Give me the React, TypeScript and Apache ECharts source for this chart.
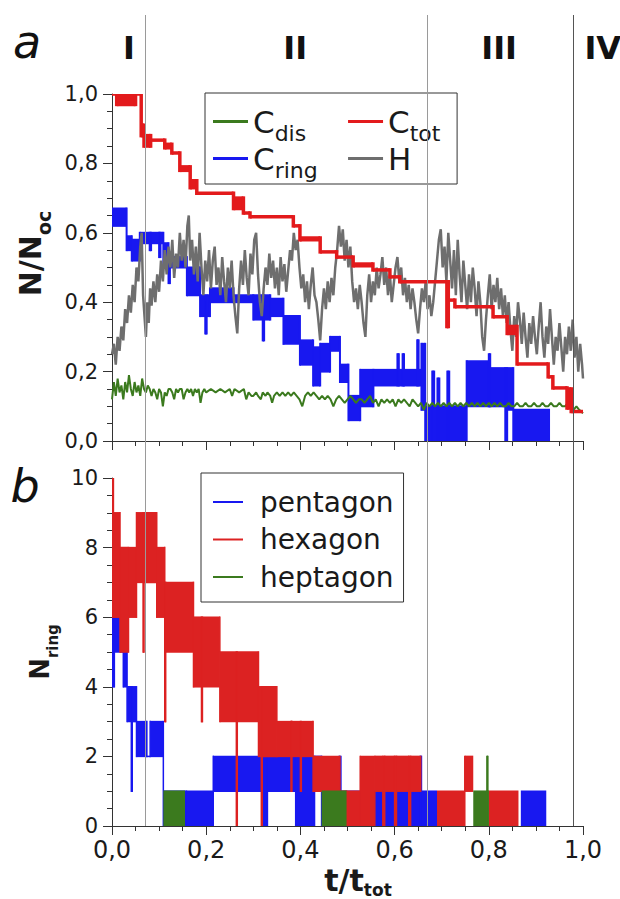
import React, { useEffect, useRef } from 'react';
import * as echarts from 'echarts';

const FONT = 'DejaVu Sans';
const INK = '#1a1a1a';
const BLUE = '#1818f0';
const RED = '#e31a1c';
const RED_B = '#dc2222';
const GREEN = '#3b7a1e';
const GREY = '#6e6e6e';

// Region boundaries (t/t_tot) and labels
const regionBounds = [0.07, 0.669, 0.979];
const regionNames = ['I', 'II', 'III', 'IV'];
const regionNameT = [0.036, 0.389, 0.822, 1.042];

// Panel a — step traces as segments [t0, t1, low, high] (dense switching drawn as a band)
const cTot = [
  [0.000, 0.010, 1.00, 1.00], [0.010, 0.050, 0.97, 1.00], [0.050, 0.062, 1.00, 1.00],
  [0.062, 0.068, 0.88, 0.91], [0.068, 0.082, 0.85, 0.88], [0.082, 0.112, 0.867, 0.867],
  [0.112, 0.127, 0.845, 0.855], [0.127, 0.144, 0.83, 0.83], [0.144, 0.166, 0.78, 0.79],
  [0.166, 0.180, 0.73, 0.75], [0.180, 0.258, 0.714, 0.714], [0.258, 0.279, 0.67, 0.70],
  [0.279, 0.293, 0.657, 0.657], [0.293, 0.385, 0.646, 0.646], [0.385, 0.399, 0.62, 0.62],
  [0.399, 0.442, 0.58, 0.585], [0.442, 0.477, 0.545, 0.545], [0.477, 0.512, 0.53, 0.53],
  [0.512, 0.554, 0.505, 0.51], [0.554, 0.590, 0.493, 0.493], [0.590, 0.611, 0.473, 0.473],
  [0.611, 0.711, 0.459, 0.459], [0.711, 0.714, 0.33, 0.459], [0.714, 0.728, 0.406, 0.406],
  [0.728, 0.809, 0.387, 0.387], [0.809, 0.839, 0.358, 0.358], [0.839, 0.860, 0.31, 0.33],
  [0.860, 0.926, 0.222, 0.222], [0.926, 0.936, 0.185, 0.185], [0.936, 0.966, 0.153, 0.153],
  [0.966, 0.975, 0.095, 0.15], [0.975, 1.000, 0.085, 0.085],
];

const cRing = [
  [0.000, 0.031, 0.62, 0.67], [0.031, 0.042, 0.55, 0.59], [0.042, 0.059, 0.52, 0.58],
  [0.059, 0.080, 0.57, 0.60], [0.080, 0.083, 0.55, 0.60], [0.083, 0.100, 0.57, 0.60],
  [0.100, 0.103, 0.53, 0.60], [0.103, 0.109, 0.57, 0.60], [0.109, 0.120, 0.51, 0.57],
  [0.120, 0.123, 0.455, 0.52], [0.123, 0.159, 0.50, 0.53], [0.159, 0.187, 0.42, 0.50],
  [0.187, 0.198, 0.36, 0.42], [0.198, 0.201, 0.31, 0.40], [0.201, 0.208, 0.36, 0.42],
  [0.208, 0.258, 0.40, 0.44], [0.258, 0.300, 0.40, 0.42], [0.300, 0.320, 0.35, 0.42],
  [0.320, 0.323, 0.29, 0.40], [0.323, 0.336, 0.35, 0.42], [0.336, 0.364, 0.36, 0.41],
  [0.364, 0.399, 0.28, 0.36], [0.399, 0.427, 0.22, 0.29], [0.427, 0.442, 0.16, 0.27],
  [0.442, 0.463, 0.20, 0.28], [0.463, 0.484, 0.26, 0.30], [0.484, 0.502, 0.17, 0.22],
  [0.502, 0.527, 0.06, 0.13], [0.527, 0.555, 0.10, 0.205], [0.555, 0.606, 0.16, 0.205],
  [0.606, 0.609, 0.16, 0.25], [0.609, 0.617, 0.16, 0.205], [0.617, 0.620, 0.16, 0.25],
  [0.620, 0.648, 0.16, 0.205], [0.648, 0.651, 0.16, 0.29], [0.651, 0.657, 0.16, 0.205],
  [0.657, 0.665, 0.09, 0.28], [0.665, 0.680, 0.00, 0.10], [0.680, 0.684, 0.00, 0.20],
  [0.684, 0.691, 0.00, 0.10], [0.691, 0.695, 0.00, 0.18], [0.695, 0.712, 0.00, 0.10],
  [0.712, 0.716, 0.00, 0.20], [0.716, 0.753, 0.00, 0.10], [0.753, 0.800, 0.10, 0.23],
  [0.800, 0.803, 0.10, 0.25], [0.803, 0.835, 0.10, 0.21], [0.835, 0.839, 0.00, 0.21],
  [0.839, 0.852, 0.09, 0.21], [0.852, 0.930, 0.00, 0.09],
];

// Panel a — H (noisy line), [t, N/N_oc]
const hLine = [
  [0.000, 0.25], [0.004, 0.28], [0.008, 0.22], [0.012, 0.30], [0.016, 0.26], [0.020, 0.33],
  [0.024, 0.29], [0.028, 0.38], [0.032, 0.34], [0.036, 0.42], [0.040, 0.37], [0.044, 0.45],
  [0.048, 0.40], [0.052, 0.50], [0.056, 0.46], [0.060, 0.56], [0.063, 0.60], [0.066, 0.42],
  [0.069, 0.36], [0.072, 0.30], [0.075, 0.40], [0.078, 0.34], [0.081, 0.44], [0.084, 0.39],
  [0.088, 0.46], [0.092, 0.40], [0.096, 0.48], [0.100, 0.43], [0.104, 0.52], [0.108, 0.46],
  [0.112, 0.55], [0.116, 0.48], [0.120, 0.56], [0.124, 0.50], [0.128, 0.58], [0.132, 0.47],
  [0.136, 0.54], [0.140, 0.50], [0.144, 0.60], [0.148, 0.52], [0.152, 0.58], [0.156, 0.50],
  [0.160, 0.62], [0.163, 0.65], [0.166, 0.52], [0.170, 0.58], [0.174, 0.48], [0.178, 0.56],
  [0.182, 0.46], [0.186, 0.60], [0.190, 0.50], [0.194, 0.42], [0.198, 0.52], [0.202, 0.46],
  [0.206, 0.55], [0.210, 0.44], [0.214, 0.52], [0.218, 0.56], [0.222, 0.45], [0.226, 0.50],
  [0.230, 0.42], [0.234, 0.53], [0.238, 0.46], [0.242, 0.40], [0.246, 0.50], [0.250, 0.44],
  [0.254, 0.52], [0.258, 0.42], [0.262, 0.36], [0.266, 0.31], [0.270, 0.44], [0.274, 0.52],
  [0.278, 0.45], [0.282, 0.55], [0.286, 0.47], [0.290, 0.42], [0.294, 0.54], [0.298, 0.48],
  [0.302, 0.58], [0.306, 0.60], [0.310, 0.48], [0.314, 0.40], [0.318, 0.36], [0.322, 0.44],
  [0.326, 0.50], [0.330, 0.45], [0.334, 0.54], [0.338, 0.47], [0.342, 0.52], [0.346, 0.44],
  [0.350, 0.50], [0.354, 0.42], [0.358, 0.53], [0.362, 0.46], [0.366, 0.51], [0.370, 0.43],
  [0.374, 0.49], [0.378, 0.55], [0.382, 0.52], [0.386, 0.60], [0.390, 0.55], [0.394, 0.58],
  [0.398, 0.50], [0.402, 0.44], [0.406, 0.48], [0.410, 0.40], [0.414, 0.46], [0.418, 0.38],
  [0.422, 0.45], [0.426, 0.50], [0.430, 0.42], [0.434, 0.40], [0.438, 0.35], [0.442, 0.29],
  [0.446, 0.38], [0.450, 0.44], [0.454, 0.38], [0.458, 0.46], [0.462, 0.40], [0.466, 0.47],
  [0.470, 0.42], [0.474, 0.50], [0.478, 0.55], [0.482, 0.62], [0.486, 0.56], [0.490, 0.61],
  [0.494, 0.52], [0.498, 0.58], [0.502, 0.50], [0.506, 0.56], [0.510, 0.46], [0.514, 0.40],
  [0.518, 0.44], [0.522, 0.38], [0.526, 0.45], [0.530, 0.40], [0.534, 0.34], [0.538, 0.30],
  [0.542, 0.42], [0.546, 0.48], [0.550, 0.40], [0.554, 0.46], [0.558, 0.42], [0.562, 0.50],
  [0.566, 0.44], [0.570, 0.48], [0.574, 0.53], [0.578, 0.45], [0.582, 0.50], [0.586, 0.42],
  [0.590, 0.48], [0.594, 0.40], [0.598, 0.45], [0.602, 0.50], [0.606, 0.53], [0.610, 0.46],
  [0.614, 0.50], [0.618, 0.42], [0.622, 0.47], [0.626, 0.40], [0.630, 0.45], [0.634, 0.38],
  [0.638, 0.44], [0.642, 0.40], [0.646, 0.35], [0.650, 0.31], [0.654, 0.38], [0.658, 0.44],
  [0.662, 0.40], [0.666, 0.46], [0.670, 0.38], [0.674, 0.42], [0.678, 0.36], [0.682, 0.40],
  [0.686, 0.46], [0.690, 0.52], [0.694, 0.58], [0.698, 0.61], [0.702, 0.50], [0.706, 0.56],
  [0.710, 0.46], [0.714, 0.60], [0.718, 0.52], [0.722, 0.44], [0.726, 0.55], [0.730, 0.42],
  [0.734, 0.58], [0.738, 0.48], [0.742, 0.40], [0.746, 0.52], [0.750, 0.45], [0.754, 0.38],
  [0.758, 0.48], [0.762, 0.40], [0.766, 0.50], [0.770, 0.44], [0.774, 0.36], [0.778, 0.46],
  [0.782, 0.40], [0.786, 0.30], [0.790, 0.26], [0.794, 0.35], [0.798, 0.42], [0.802, 0.48],
  [0.806, 0.38], [0.810, 0.45], [0.814, 0.40], [0.818, 0.47], [0.822, 0.38], [0.826, 0.44],
  [0.830, 0.36], [0.834, 0.42], [0.838, 0.34], [0.842, 0.40], [0.846, 0.32], [0.850, 0.26],
  [0.854, 0.36], [0.858, 0.30], [0.862, 0.40], [0.866, 0.35], [0.870, 0.28], [0.874, 0.37],
  [0.878, 0.30], [0.882, 0.24], [0.886, 0.34], [0.890, 0.28], [0.894, 0.36], [0.898, 0.30],
  [0.902, 0.25], [0.906, 0.33], [0.910, 0.40], [0.914, 0.30], [0.918, 0.24], [0.922, 0.33],
  [0.926, 0.28], [0.930, 0.38], [0.934, 0.30], [0.938, 0.22], [0.942, 0.30], [0.946, 0.26],
  [0.950, 0.34], [0.954, 0.27], [0.958, 0.20], [0.962, 0.30], [0.966, 0.25], [0.970, 0.33],
  [0.974, 0.26], [0.978, 0.35], [0.982, 0.24], [0.986, 0.30], [0.990, 0.20], [0.994, 0.28],
  [0.998, 0.22], [1.000, 0.18],
];

// Panel a — C_dis (noisy line), [t, N/N_oc]
const cDis = [
  [0.000, 0.12], [0.004, 0.17], [0.008, 0.13], [0.012, 0.18], [0.016, 0.14], [0.020, 0.16],
  [0.024, 0.12], [0.028, 0.17], [0.032, 0.14], [0.036, 0.19], [0.040, 0.15], [0.044, 0.13],
  [0.048, 0.17], [0.052, 0.14], [0.056, 0.16], [0.060, 0.13], [0.064, 0.18], [0.068, 0.15],
  [0.072, 0.14], [0.076, 0.16], [0.080, 0.15], [0.084, 0.13], [0.088, 0.15], [0.092, 0.14],
  [0.096, 0.12], [0.100, 0.15], [0.104, 0.14], [0.108, 0.10], [0.112, 0.14], [0.116, 0.13],
  [0.120, 0.15], [0.124, 0.15], [0.128, 0.14], [0.132, 0.12], [0.136, 0.15], [0.140, 0.14],
  [0.144, 0.15], [0.148, 0.15], [0.152, 0.12], [0.156, 0.14], [0.160, 0.15], [0.164, 0.14],
  [0.168, 0.15], [0.172, 0.13], [0.176, 0.15], [0.180, 0.14], [0.184, 0.15], [0.188, 0.11],
  [0.192, 0.14], [0.196, 0.15], [0.200, 0.14], [0.210, 0.15], [0.220, 0.14], [0.230, 0.15],
  [0.240, 0.14], [0.250, 0.15], [0.255, 0.13], [0.260, 0.15], [0.270, 0.14], [0.280, 0.15],
  [0.285, 0.12], [0.290, 0.14], [0.296, 0.13], [0.300, 0.13], [0.306, 0.14], [0.310, 0.13],
  [0.316, 0.12], [0.320, 0.14], [0.326, 0.13], [0.330, 0.14], [0.336, 0.13], [0.340, 0.11],
  [0.344, 0.13], [0.350, 0.14], [0.356, 0.13], [0.362, 0.14], [0.368, 0.13], [0.374, 0.14],
  [0.380, 0.13], [0.386, 0.14], [0.392, 0.13], [0.398, 0.12], [0.404, 0.10], [0.410, 0.13],
  [0.416, 0.14], [0.422, 0.13], [0.428, 0.14], [0.434, 0.13], [0.440, 0.12], [0.446, 0.13],
  [0.452, 0.12], [0.458, 0.13], [0.464, 0.12], [0.470, 0.10], [0.476, 0.12], [0.482, 0.13],
  [0.488, 0.12], [0.494, 0.11], [0.500, 0.12], [0.506, 0.13], [0.512, 0.12], [0.518, 0.11],
  [0.524, 0.12], [0.530, 0.12], [0.536, 0.11], [0.542, 0.12], [0.548, 0.13], [0.554, 0.11],
  [0.560, 0.12], [0.566, 0.10], [0.572, 0.12], [0.578, 0.11], [0.584, 0.12], [0.590, 0.11],
  [0.596, 0.12], [0.602, 0.10], [0.608, 0.12], [0.614, 0.11], [0.620, 0.12], [0.626, 0.11],
  [0.632, 0.10], [0.638, 0.12], [0.644, 0.11], [0.650, 0.10], [0.656, 0.11], [0.662, 0.09],
  [0.668, 0.11], [0.674, 0.10], [0.680, 0.11], [0.686, 0.10], [0.692, 0.11], [0.698, 0.10],
  [0.704, 0.11], [0.710, 0.10], [0.716, 0.11], [0.722, 0.10], [0.728, 0.11], [0.734, 0.10],
  [0.740, 0.11], [0.746, 0.10], [0.752, 0.11], [0.758, 0.10], [0.764, 0.11], [0.770, 0.10],
  [0.776, 0.11], [0.782, 0.10], [0.788, 0.11], [0.794, 0.10], [0.800, 0.11], [0.806, 0.10],
  [0.812, 0.11], [0.818, 0.10], [0.824, 0.11], [0.830, 0.10], [0.836, 0.10], [0.842, 0.11],
  [0.848, 0.10], [0.854, 0.10], [0.860, 0.11], [0.866, 0.10], [0.872, 0.10], [0.878, 0.11],
  [0.884, 0.10], [0.890, 0.10], [0.896, 0.11], [0.902, 0.10], [0.908, 0.10], [0.914, 0.11],
  [0.920, 0.10], [0.926, 0.10], [0.932, 0.11], [0.938, 0.10], [0.944, 0.10], [0.950, 0.11],
  [0.956, 0.10], [0.962, 0.10], [0.968, 0.11], [0.974, 0.10], [0.980, 0.09], [0.986, 0.10],
  [0.992, 0.09], [1.000, 0.08],
];

// Panel b — ring counts as segments [t0, t1, low, high]
const pentagon = [
  [0.000, 0.005, 4, 7], [0.005, 0.024, 5, 6], [0.024, 0.032, 4, 5], [0.032, 0.041, 3, 4],
  [0.041, 0.043, 1, 4], [0.043, 0.052, 3, 4], [0.052, 0.074, 2, 3], [0.074, 0.081, 2, 2],
  [0.081, 0.109, 2, 3], [0.109, 0.158, 0, 1], [0.158, 0.215, 0, 1], [0.215, 0.318, 1, 2],
  [0.318, 0.330, 0, 2], [0.330, 0.390, 1, 2], [0.390, 0.430, 0, 2], [0.430, 0.445, 1, 2],
  [0.445, 0.482, 0, 1], [0.482, 0.486, 1, 2], [0.486, 0.558, 0, 1], [0.558, 0.654, 0, 1],
  [0.654, 0.657, 0, 2], [0.657, 0.690, 0, 1], [0.868, 0.922, 0, 1],
];

const hexagon = [
  [0.000, 0.003, 6, 10], [0.003, 0.017, 6, 9], [0.017, 0.035, 5, 8], [0.035, 0.052, 6, 8],
  [0.052, 0.066, 7, 9], [0.066, 0.068, 5, 9], [0.068, 0.095, 7, 9], [0.095, 0.112, 6, 8],
  [0.112, 0.114, 3, 7], [0.114, 0.173, 5, 7], [0.173, 0.190, 4, 6], [0.190, 0.192, 3, 6],
  [0.192, 0.229, 4, 6], [0.229, 0.264, 3, 5], [0.264, 0.266, 0, 5], [0.266, 0.311, 3, 5],
  [0.311, 0.317, 2, 4], [0.317, 0.319, 0, 4], [0.319, 0.350, 2, 4], [0.350, 0.380, 2, 3],
  [0.380, 0.382, 1, 3], [0.382, 0.400, 2, 3], [0.400, 0.402, 1, 3], [0.402, 0.427, 2, 3],
  [0.427, 0.484, 1, 2], [0.484, 0.498, 0, 1], [0.498, 0.527, 0, 1], [0.527, 0.558, 0, 2],
  [0.558, 0.575, 1, 2], [0.575, 0.579, 0, 2], [0.579, 0.600, 1, 2], [0.600, 0.604, 0, 2],
  [0.604, 0.630, 1, 2], [0.630, 0.634, 0, 2], [0.634, 0.657, 1, 2],
  [0.690, 0.749, 0, 1], [0.749, 0.767, 1, 2], [0.799, 0.863, 0, 1],
];

const heptagon = [
  [0.109, 0.155, 0, 1], [0.445, 0.498, 0, 1], [0.767, 0.796, 0, 1], [0.796, 0.798, 0, 2],
  [0.798, 0.799, 0, 1],
];

const comma = (v: number, d: number) => v.toFixed(d).replace('.', ',');

function envelope(name: string, segs: number[][], color: string, lw: number, idx: number, z: number) {
  return {
    type: 'custom',
    name,
    xAxisIndex: idx,
    yAxisIndex: idx,
    z,
    clip: true,
    itemStyle: { color },
    encode: { x: [0, 1], y: [2, 3] },
    data: segs,
    renderItem: (params: any, api: any) => {
      const s = segs[params.dataIndex];
      const t0 = s[0], t1 = s[1], lo = s[2], hi = s[3];
      const pTop = api.coord([t0, hi]);
      const pBot = api.coord([t1, lo]);
      const w = Math.max(pBot[0] - pTop[0], 1);
      const children: any[] = [
        {
          type: 'rect',
          shape: { x: pTop[0], y: pTop[1] - lw / 2, width: w, height: pBot[1] - pTop[1] + lw },
          style: { fill: color },
        },
      ];
      const n = segs[params.dataIndex + 1];
      if (n && Math.abs(n[0] - t1) < 1e-9) {
        const a = api.coord([t1, Math.max(hi, n[3])]);
        const b = api.coord([t1, Math.min(lo, n[2])]);
        children.push({
          type: 'rect',
          shape: { x: a[0] - lw / 2, y: a[1] - lw / 2, width: lw, height: b[1] - a[1] + lw },
          style: { fill: color },
        });
      }
      return { type: 'group', children };
    },
  };
}

const tickCommon = {
  axisLine: { show: true, onZero: false, lineStyle: { color: '#333', width: 1 } },
  axisTick: { show: true, inside: false, length: 9, lineStyle: { color: '#333', width: 1 } },
  minorTick: { show: true, splitNumber: 4, length: 5, lineStyle: { color: '#333', width: 1 } },
  splitLine: { show: false },
  minorSplitLine: { show: false },
};

export default function App() {
  const ref = useRef<HTMLDivElement>(null);
  useEffect(() => {
    if (!ref.current) return;
    const chart = echarts.init(ref.current, null, { renderer: 'svg' });
    const subA = { fontSize: 22, fontFamily: FONT, color: INK, lineHeight: 8, padding: [24.6, 0, 0, 0] };
    const option: any = {
      animation: false,
      backgroundColor: '#ffffff',
      textStyle: { fontFamily: FONT, color: INK },
      grid: [
        { left: 112, top: 94, width: 471, height: 347, containLabel: false, outerBoundsMode: 'none' },
        { left: 112, top: 478, width: 471, height: 348, containLabel: false, outerBoundsMode: 'none' },
      ],
      xAxis: [
        {
          gridIndex: 0, type: 'value', min: 0, max: 1, interval: 0.2,
          ...tickCommon,
          axisLabel: { show: false },
        },
        {
          gridIndex: 1, type: 'value', min: 0, max: 1, interval: 0.2,
          ...tickCommon,
          axisLabel: { formatter: (v: number) => comma(v, 1), fontSize: 24, color: INK, fontFamily: FONT, margin: 12 },
          name: '{m|t/t}{s|tot}',
          nameLocation: 'middle',
          nameGap: 11,
          nameTextStyle: {
            rich: {
              m: { fontSize: 30, fontWeight: 'bold', fontFamily: FONT, color: INK, lineHeight: 30, padding: [0, 0, 0, 21] },
              s: { fontSize: 17, fontWeight: 'bold', fontFamily: FONT, color: INK, lineHeight: 12, padding: [19, 0, 0, 0] },
            },
          },
        },
      ],
      yAxis: [
        {
          gridIndex: 0, type: 'value', min: 0, max: 1, interval: 0.2,
          ...tickCommon,
          axisLabel: { formatter: (v: number) => comma(v, 1), fontSize: 21, color: INK, fontFamily: FONT, margin: 14 },
          name: '{m|N/N}{s|oc}',
          nameLocation: 'middle',
          nameRotate: 90,
          nameGap: 60,
          nameTextStyle: {
            rich: {
              m: { fontSize: 30, fontWeight: 'bold', fontFamily: FONT, color: INK, lineHeight: 30, padding: [0, 0, 0, 28] },
              s: { fontSize: 19, fontWeight: 'bold', fontFamily: FONT, color: INK, lineHeight: 12, padding: [28, 0, 0, 0] },
            },
          },
        },
        {
          gridIndex: 1, type: 'value', min: 0, max: 10, interval: 2,
          ...tickCommon,
          axisLabel: { fontSize: 21, color: INK, fontFamily: FONT, margin: 14 },
          name: '{m|N}{s|ring}',
          nameLocation: 'middle',
          nameRotate: 90,
          nameGap: 56,
          nameTextStyle: {
            rich: {
              m: { fontSize: 26, fontWeight: 'bold', fontFamily: FONT, color: INK, lineHeight: 26 },
              s: { fontSize: 15, fontWeight: 'bold', fontFamily: FONT, color: INK, lineHeight: 10, padding: [26, 0, 0, 0] },
            },
          },
        },
      ],
      legend: [
        {
          data: ['C_dis', 'C_tot', 'C_ring', 'H'],
          left: 205,
          top: 93,
          orient: 'horizontal',
          width: 235,
          padding: [5.2, 16.7, 2.2, 8],
          itemWidth: 35,
          itemHeight: 3,
          itemGap: -9.6,
          icon: 'rect',
          selectedMode: false,
          borderColor: '#333',
          borderWidth: 1,
          backgroundColor: '#ffffff',
          formatter: (name: string) => {
            if (name === 'C_dis') return '{m|C}{sd|dis}';
            if (name === 'C_ring') return '{m|C}{sr|ring}';
            if (name === 'C_tot') return '{m|C}{st|tot}';
            return '{m|H}{st| }';
          },
          textStyle: {
            fontFamily: FONT,
            color: INK,
            rich: {
              m: { fontSize: 31, fontFamily: FONT, color: INK, lineHeight: 30 },
              sd: { ...subA, width: 83 },
              sr: { ...subA, width: 83 },
              st: { ...subA },
            },
          },
        },
        {
          data: ['pentagon', 'hexagon', 'heptagon'],
          left: 201,
          top: 473,
          orient: 'vertical',
          padding: [15, 10, 11, 12],
          itemWidth: 30,
          itemHeight: 2,
          itemGap: 9.5,
          icon: 'rect',
          selectedMode: false,
          borderColor: '#333',
          borderWidth: 1,
          backgroundColor: '#ffffff',
          formatter: (name: string) => `{t|${name}}`,
          textStyle: {
            fontFamily: FONT,
            color: INK,
            rich: {
              t: { fontSize: 28, fontFamily: FONT, color: INK, lineHeight: 30, padding: [0, 0, 0, 12] },
            },
          },
        },
      ],
      series: [
        envelope('C_ring', cRing, BLUE, 2, 0, 2),
        {
          type: 'line', name: 'H', xAxisIndex: 0, yAxisIndex: 0, z: 3,
          data: hLine, showSymbol: false, symbol: 'none',
          itemStyle: { color: GREY }, lineStyle: { color: GREY, width: 2.5 },
        },
        {
          type: 'line', name: 'C_dis', xAxisIndex: 0, yAxisIndex: 0, z: 4,
          data: cDis, showSymbol: false, symbol: 'none',
          itemStyle: { color: GREEN }, lineStyle: { color: GREEN, width: 2 },
        },
        envelope('C_tot', cTot, RED, 3.5, 0, 5),
        envelope('pentagon', pentagon, BLUE, 1.5, 1, 2),
        envelope('hexagon', hexagon, RED_B, 1.5, 1, 3),
        envelope('heptagon', heptagon, GREEN, 1.5, 1, 4),
      ],
    };
    chart.setOption(option);

    const xp = (t: number) => (chart.convertToPixel({ gridIndex: 0 } as any, [t, 0]) as number[])[0];
    const yBottom = (chart.convertToPixel({ gridIndex: 1 } as any, [0, 0]) as number[])[1];
    const graphics: any[] = [];
    regionBounds.forEach((t, i) => {
      const x = Math.round(xp(t)) + 0.5;
      graphics.push({
        type: 'line',
        z: 100,
        shape: { x1: x, y1: 15, x2: x, y2: yBottom },
        style: { stroke: i === 2 ? '#555555' : '#9a9a9a', lineWidth: 1 },
      });
    });
    regionNames.forEach((name, i) => {
      graphics.push({
        type: 'text',
        z: 100,
        x: xp(regionNameT[i]),
        y: 48,
        style: { text: name, fontSize: 32, fontWeight: 'bold', fontFamily: FONT, fill: '#111', align: 'center', verticalAlign: 'middle' },
      });
    });
    graphics.push({
      type: 'text', z: 100, x: 27, y: 42,
      style: { text: 'a', fontSize: 46, fontStyle: 'italic', fontFamily: FONT, fill: '#111', align: 'center', verticalAlign: 'middle' },
    });
    graphics.push({
      type: 'text', z: 100, x: 25, y: 486,
      style: { text: 'b', fontSize: 46, fontStyle: 'italic', fontFamily: FONT, fill: '#111', align: 'center', verticalAlign: 'middle' },
    });
    chart.setOption({ graphic: graphics });

    return () => chart.dispose();
  }, []);
  return (
    <div
      ref={ref}
      style={{ position: 'fixed', left: 0, top: 0, width: 620, height: 899, background: '#fff' }}
    />
  );
}
